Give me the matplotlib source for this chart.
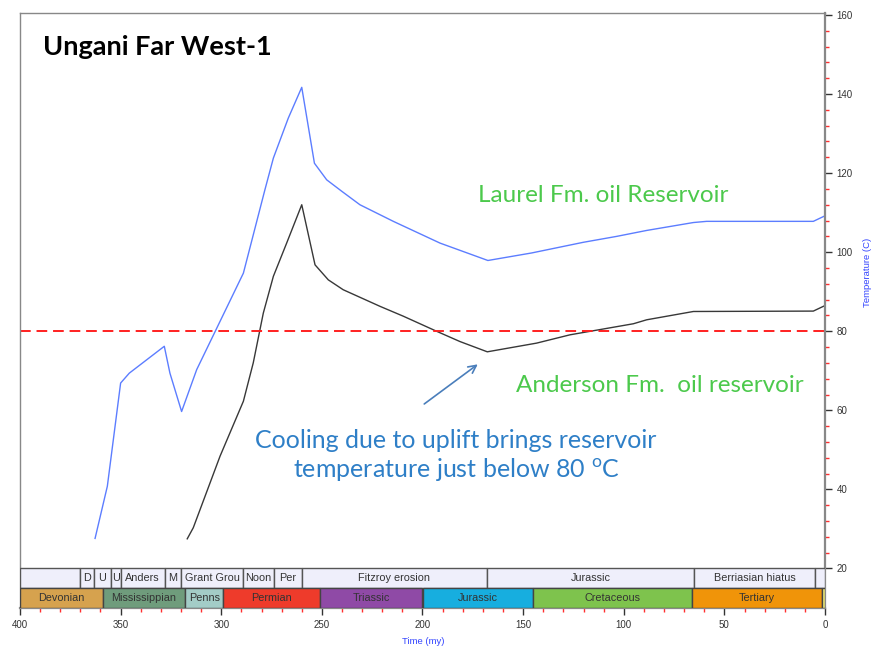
import matplotlib
matplotlib.use("Agg")
import matplotlib.pyplot as plt
from matplotlib.ticker import FixedLocator

# ---------------- data ----------------
laurel_age = [362.7, 356.6, 350.0, 345.7, 328.3, 325.5, 319.7, 312.2, 289.0, 278.3, 274.1,
              266.7, 260.0, 253.7, 247.6, 240.1, 231.1, 214.5, 191.3, 167.5, 145.8, 120.1,
              103.5, 88.6, 65.4, 58.8, 5.8, 0.0]
laurel_temp = [27.6, 40.8, 66.9, 69.4, 76.2, 69.4, 59.7, 70.3, 94.7, 115.8, 123.8,
               133.9, 141.7, 122.5, 118.3, 115.4, 112.0, 107.8, 102.3, 97.9, 99.8, 102.5,
               104.0, 105.5, 107.5, 107.8, 107.8, 109.2]

anderson_age = [316.9, 313.9, 300.6, 289.0, 284.1, 279.1, 274.1, 267.5, 260.0, 253.4, 246.8,
                239.4, 221.1, 209.5, 193.0, 181.4, 167.8, 143.3, 126.7, 95.2, 88.6, 65.4,
                5.8, 0.0]
anderson_temp = [27.5, 30.3, 48.4, 62.3, 72.0, 84.6, 93.9, 102.3, 112.0, 96.8, 93.0,
                 90.5, 86.3, 83.8, 80.0, 77.4, 74.8, 77.0, 79.1, 81.9, 82.9, 85.0,
                 85.1, 86.5]

threshold_temp = 80

event_labels = ["", "D", "U", "U", "Anders", "M", "Grant Grou", "Noon", "Per",
                "Fitzroy erosion", "Jurassic", "Berriasian hiatus", ""]
event_bounds = [400, 370, 363, 355, 350, 328, 320, 289, 274, 260, 168, 65, 5, 0]

period_labels = ["Devonian", "Mississippian", "Penns", "Permian", "Triassic",
                 "Jurassic", "Cretaceous", "Tertiary", ""]
period_bounds = [400, 359, 318, 299, 251, 200, 145, 66, 1.5, 0]
period_colors = ["#D6A24E", "#6F9C7C", "#A3CCC7", "#EE3B2B", "#8F4AA6",
                 "#17AEDF", "#7EC34D", "#F09409", "#F4EF7A"]

temp_ticks = [20, 40, 60, 80, 100, 120, 140, 160]
time_ticks = [400, 350, 300, 250, 200, 150, 100, 50, 0]

# ---------------- figure ----------------
W, H = 874, 646
fig = plt.figure(figsize=(W / 100, H / 100), dpi=100)
ax = fig.add_axes([20 / W, 38 / H, 805 / W, 595 / H])
ax.set_xlim(400, 0)
ax.set_ylim(10, 160.5)

def px2data(px, py):
    return 400 - (px - 20) / 2.0125, 160 - (py - 15) / 3.957

strat_font = dict(family="Liberation Sans", size=7.8, color="#333333")

# stratigraphic bars
row_top = (15, 20)
row_bot = (10, 15)
for i, lab in enumerate(event_labels):
    a, b = event_bounds[i], event_bounds[i + 1]
    ax.barh((row_top[0] + row_top[1]) / 2, a - b, left=b, height=row_top[1] - row_top[0],
            color="#EFEFFB", edgecolor="#555555", linewidth=1.0, zorder=3)
    if lab:
        ax.text((a + b) / 2, (row_top[0] + row_top[1]) / 2, lab, ha="center", va="center",
                zorder=4, **strat_font)
for i, lab in enumerate(period_labels):
    a, b = period_bounds[i], period_bounds[i + 1]
    ax.barh((row_bot[0] + row_bot[1]) / 2, a - b, left=b, height=row_bot[1] - row_bot[0],
            color=period_colors[i], edgecolor="#444444", linewidth=1.0, zorder=3)
    if lab:
        ax.text((a + b) / 2, (row_bot[0] + row_bot[1]) / 2, lab, ha="center", va="center",
                zorder=4, **strat_font)

# lines
ax.plot(laurel_age, laurel_temp, color="#5C7DFF", lw=1.0, zorder=2)
ax.plot(anderson_age, anderson_temp, color="#383838", lw=1.0, zorder=2)
ax.axhline(threshold_temp, color="#FF2020", lw=1.4, ls=(0, (5.5, 3)), zorder=2)

# axes styling
for s in ax.spines.values():
    s.set_color("#888888")
    s.set_linewidth(1.0)
ax.spines["right"].set_linewidth(1.6)
ax.spines["bottom"].set_linewidth(1.6)

ax.yaxis.tick_right()
ax.set_yticks(temp_ticks)
ax.yaxis.set_minor_locator(FixedLocator([v for v in range(20, 161, 4) if v % 20 != 0]))
ax.set_xticks(time_ticks)
ax.xaxis.set_minor_locator(FixedLocator([v for v in range(0, 401, 10) if v % 50 != 0]))
ax.tick_params(which="major", length=5, width=1.0, color="#333333", pad=3.5)
ax.tick_params(which="minor", length=3, width=1.0, color="#FF3030")
ax.tick_params(axis="y", which="both", left=False, right=True, direction="out")
for lab in ax.get_xticklabels() + ax.get_yticklabels():
    lab.set_fontfamily("Liberation Sans")
    lab.set_fontsize(7)
    lab.set_color("#333333")

fig.text(423 / W, 1 - 641 / H, "Time (my)", fontsize=6.8, color="#3344FF",
         family="Liberation Sans", ha="center", va="center")
fig.text(868 / W, 1 - 272 / H, "Temperature (C)", fontsize=6.8, color="#3344FF",
         family="Liberation Sans", ha="center", va="center", rotation=90)

# annotations
x, y = px2data(43, 47)
ax.text(x, y, "Ungani Far West-1", fontsize=19.5, fontweight="bold", family="Lato",
        ha="left", va="center", color="black")
x, y = px2data(478, 196)
ax.text(x, y, "Laurel Fm. oil Reservoir", fontsize=17.5, family="Lato",
        ha="left", va="center", color="#4CC94C")
x, y = px2data(516, 386)
ax.text(x, y, "Anderson Fm.  oil reservoir", fontsize=17.5, family="Lato",
        ha="left", va="center", color="#4CC94C")
x, y = px2data(456, 441)
ax.text(x, y, "Cooling due to uplift brings reservoir", fontsize=18, family="Lato",
        ha="center", va="center", color="#2E7FC7")
x, y = px2data(456, 470)
ax.text(x, y, r"temperature just below 80 $^{\mathregular{o}}$C", fontsize=18, family="Lato",
        ha="center", va="center", color="#2E7FC7")
tx, ty = px2data(422, 406)
hx, hy = px2data(480, 363)
ax.annotate("", xy=(hx, hy), xytext=(tx, ty),
            arrowprops=dict(arrowstyle="->", color="#4A7EBB", lw=1.2, mutation_scale=14))

fig.savefig("out.png", dpi=100)
